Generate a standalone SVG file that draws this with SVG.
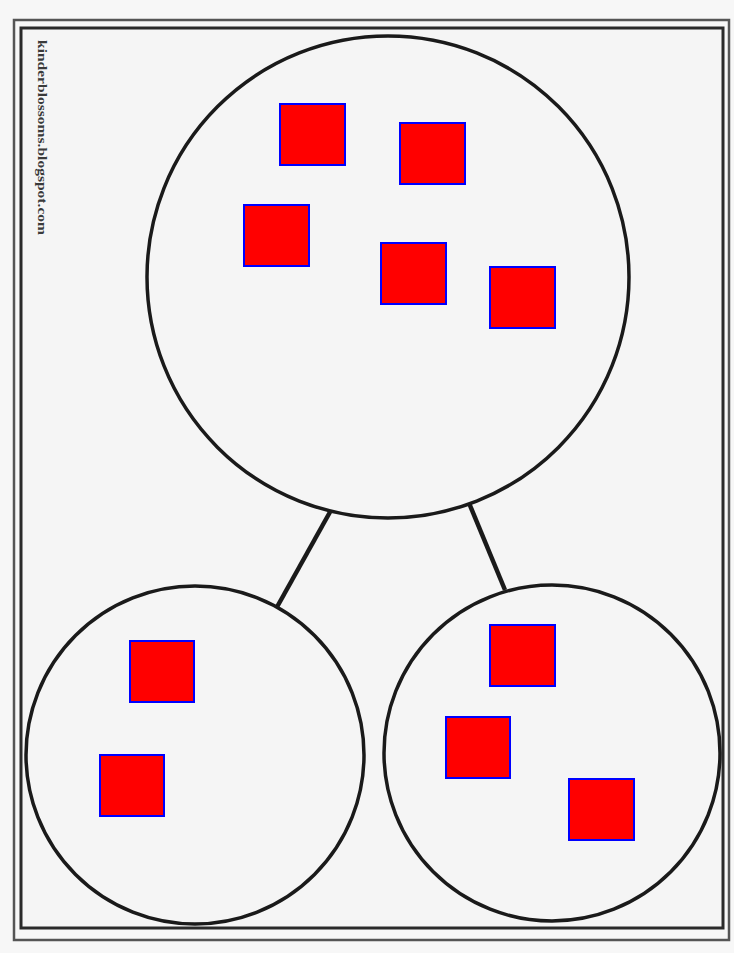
<svg xmlns="http://www.w3.org/2000/svg" width="734" height="953" viewBox="0 0 734 953">
<style>
.sq{fill:#ff0000;stroke:#0000ff;stroke-width:2}
.c{fill:#f5f5f5;stroke:#1a1a1a;stroke-width:3.5}
.ln{stroke:#1a1a1a;stroke-width:4.5;fill:none}
</style>
<rect x="0" y="0" width="734" height="953" fill="#f7f7f7"/>
<g id="frame">
<rect x="14" y="20" width="715" height="920" fill="none" stroke="#555" stroke-width="2.5"/>
<rect x="21" y="28" width="702" height="900" fill="#f5f5f5" stroke="#2a2a2a" stroke-width="3"/>
</g>
<text transform="translate(38,40) rotate(90)" font-family="Liberation Serif, serif" font-weight="bold" font-size="13" textLength="195" lengthAdjust="spacingAndGlyphs" fill="#3a3a3a">kinderblossoms.blogspot.com</text>
<g id="connectors">
<line class="ln" x1="330" y1="512" x2="277" y2="607"/>
<line class="ln" x1="469" y1="503" x2="505" y2="590"/>
</g>
<g id="whole">
<circle class="c" cx="388" cy="277" r="241"/>
<rect class="sq" x="280" y="104" width="65" height="61"/>
<rect class="sq" x="400" y="123" width="65" height="61"/>
<rect class="sq" x="244" y="205" width="65" height="61"/>
<rect class="sq" x="381" y="243" width="65" height="61"/>
<rect class="sq" x="490" y="267" width="65" height="61"/>
</g>
<g id="part-left">
<circle class="c" cx="195" cy="755" r="169"/>
<rect class="sq" x="130" y="641" width="64" height="61"/>
<rect class="sq" x="100" y="755" width="64" height="61"/>
</g>
<g id="part-right">
<circle class="c" cx="552" cy="753" r="168"/>
<rect class="sq" x="490" y="625" width="65" height="61"/>
<rect class="sq" x="446" y="717" width="64" height="61"/>
<rect class="sq" x="569" y="779" width="65" height="61"/>
</g>
</svg>
